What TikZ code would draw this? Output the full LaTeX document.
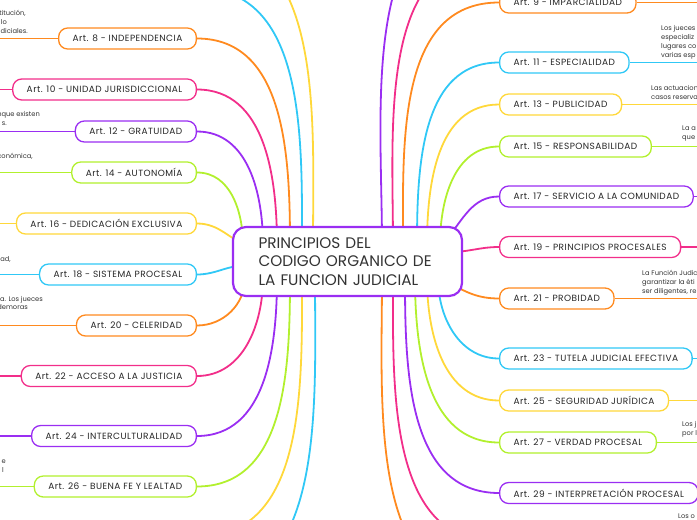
\documentclass[tikz,border=0pt]{standalone}
\usepackage{fontspec}
\setmainfont{Poppins}
\newfontfamily\artfont[LetterSpace=5]{Poppins}
\usetikzlibrary{backgrounds}
\definecolor{mmorange}{HTML}{FF8A1F}
\definecolor{mmpink}{HTML}{F22E8A}
\definecolor{mmpurple}{HTML}{9A2EF2}
\definecolor{mmlime}{HTML}{B2F02E}
\definecolor{mmyellow}{HTML}{FFD83A}
\definecolor{mmblue}{HTML}{30C8F6}
\tikzstyle{root}=[rectangle,draw=mmpurple,fill=white,line width=2.2pt,rounded corners=13pt,minimum width=229pt,minimum height=69pt,align=left,text width=178pt,text=black!80,font=\fontsize{15.3}{18.5}\selectfont]
\tikzstyle{article}=[rectangle,draw,fill=white,line width=1.3pt,rounded corners=9pt,minimum height=21pt,inner xsep=14pt,inner ysep=0pt,text=black!85,font=\artfont\fontsize{9}{10}\selectfont]
\tikzstyle{branch}=[line width=1.8pt]
\tikzstyle{note}=[inner sep=0pt,align=left,text=black!80,font=\fontsize{6.7}{9}\selectfont]

\begin{document}
\begin{tikzpicture}[x=1pt,y=-1pt]
	\useasboundingbox (0,0) rectangle (697,520);
	\clip (0,0) rectangle (697,520);

	\node[root] (center) at (347.5,261.5) {PRINCIPIOS DEL\\CODIGO ORGANICO DE\\LA FUNCION JUDICIAL};

	\node[article,draw=mmorange,anchor=east] (art8) at (197,38.5) {Art. 8 - INDEPENDENCIA};
	\node[article,draw=mmpink,anchor=east] (art10) at (197,89.5) {Art. 10 - UNIDAD JURISDICCIONAL};
	\node[article,draw=mmpurple,anchor=east] (art12) at (197,131.5) {Art. 12 - GRATUIDAD};
	\node[article,draw=mmlime,anchor=east] (art14) at (197,172.5) {Art. 14 - AUTONOMÍA};
	\node[article,draw=mmyellow,anchor=east] (art16) at (197,223.5) {Art. 16 - DEDICACIÓN EXCLUSIVA};
	\node[article,draw=mmblue,anchor=east] (art18) at (197,274.5) {Art. 18 - SISTEMA PROCESAL};
	\node[article,draw=mmorange,anchor=east] (art20) at (197,325.5) {Art. 20 - CELERIDAD};
	\node[article,draw=mmpink,anchor=east] (art22) at (197,376) {Art. 22 - ACCESO A LA JUSTICIA};
	\node[article,draw=mmpurple,anchor=east] (art24) at (197,436) {Art. 24 - INTERCULTURALIDAD};
	\node[article,draw=mmlime,anchor=east] (art26) at (197,486.5) {Art. 26 - BUENA FE Y LEALTAD};

	\node[article,draw=mmorange,anchor=west] (art9) at (499,2.5) {Art. 9 - IMPARCIALIDAD};
	\node[article,draw=mmblue,anchor=west] (art11) at (499,62.5) {Art. 11 - ESPECIALIDAD};
	\node[article,draw=mmyellow,anchor=west] (art13) at (499,104.5) {Art. 13 - PUBLICIDAD};
	\node[article,draw=mmlime,anchor=west] (art15) at (499,146.5) {Art. 15 - RESPONSABILIDAD};
	\node[article,draw=mmpurple,anchor=west] (art17) at (499,196.5) {Art. 17 - SERVICIO A LA COMUNIDAD};
	\node[article,draw=mmpink,anchor=west] (art19) at (499,247) {Art. 19 - PRINCIPIOS PROCESALES};
	\node[article,draw=mmorange,anchor=west] (art21) at (499,298.5) {Art. 21 - PROBIDAD};
	\node[article,draw=mmblue,anchor=west] (art23) at (499,358.5) {Art. 23 - TUTELA JUDICIAL EFECTIVA};
	\node[article,draw=mmyellow,anchor=west] (art25) at (499,400.5) {Art. 25 - SEGURIDAD JURÍDICA};
	\node[article,draw=mmlime,anchor=west] (art27) at (499,442.5) {Art. 27 - VERDAD PROCESAL};
	\node[article,draw=mmpurple,anchor=west] (art29) at (499,493) {Art. 29 - INTERPRETACIÓN PROCESAL};

	\coordinate (art4) at (197,-62);
	\coordinate (art6) at (197,-12);
	\coordinate (art28) at (197,537);
	\coordinate (art30) at (197,588);
	\coordinate (art5) at (499,-97);
	\coordinate (art7) at (499,-47);
	\coordinate (art31) at (499,543);
	\coordinate (art33) at (499,593);

	\coordinate (a4) at (313,245);
	\coordinate (a6) at (302,245);
	\coordinate (a8) at (290,245);
	\coordinate (a10) at (277,245);
	\coordinate (a12) at (263,245);
	\coordinate (a14) at (243,245);
	\coordinate (a16) at (250,247);
	\coordinate (a18) at (248,266);
	\coordinate (a20) at (245,278);
	\coordinate (a22) at (263,278);
	\coordinate (a24) at (277,278);
	\coordinate (a26) at (290,278);
	\coordinate (a28) at (302,278);
	\coordinate (a30) at (315,278);
	\coordinate (a5) at (382,245);
	\coordinate (a7) at (393,245);
	\coordinate (a9) at (403,245);
	\coordinate (a11) at (417,245);
	\coordinate (a13) at (427,245);
	\coordinate (a15) at (440,245);
	\coordinate (a17) at (446,240);
	\coordinate (a19) at (450,252);
	\coordinate (a21) at (448,282);
	\coordinate (a23) at (438,278);
	\coordinate (a25) at (427,278);
	\coordinate (a27) at (415,278);
	\coordinate (a29) at (405,278);
	\coordinate (a31) at (393,278);
	\coordinate (a33) at (382,278);

	\coordinate (note8) at (-3,38.5);
	\coordinate (note10) at (-3,89.5);
	\coordinate (note12) at (-3,131.5);
	\coordinate (note14) at (-3,172.5);
	\coordinate (note16) at (-3,223.5);
	\coordinate (note18) at (-3,274.5);
	\coordinate (note20) at (-3,325.5);
	\coordinate (note22) at (-3,376);
	\coordinate (note24) at (-3,436);
	\coordinate (note26) at (-3,486.5);
	\coordinate (note9) at (700,2.5);
	\coordinate (note11) at (700,62.5);
	\coordinate (note13) at (700,104.5);
	\coordinate (note15) at (700,146.5);
	\coordinate (note17) at (700,196.5);
	\coordinate (note19) at (700,247);
	\coordinate (note21) at (700,298.5);
	\coordinate (note23) at (700,358.5);
	\coordinate (note25) at (700,400.5);
	\coordinate (note27) at (700,442.5);
	\coordinate (note29) at (700,493);

	\node[note,anchor=base east] (text8a) at (26,15.7) {titución,};
	\node[note,anchor=base east] (text8b) at (7,24.3) {lo};
	\node[note,anchor=base east] (text8c) at (28,33) {diciales.};
	\node[note,anchor=base east] (text12a) at (40,116) {nque existen};
	\node[note,anchor=base east] (text12b) at (7,125) {s.};
	\node[note,anchor=base east] (text14) at (33,158) {conómica,};
	\node[note,anchor=base east] (text18) at (11,261) {ad,};
	\node[note,anchor=base east] (text20a) at (43,301) {a. Los jueces};
	\node[note,anchor=base east] (text20b) at (28,309.5) {demoras};
	\node[note,anchor=base east] (text26a) at (6,463) {e};
	\node[note,anchor=base east] (text26b) at (4,472) {l};

	\node[note,anchor=base west] (text11) at (661,57) {Los jueces\\especializ\\lugares co\\varias esp};
	\node[note,anchor=base west] (text13) at (651,99) {Las actuacion\\casos reserva};
	\node[note,anchor=base west] (text15) at (682,139) {La a\\que};
	\node[note,anchor=base west] (text21) at (642,293) {La Función Judic\\garantizar la éti\\ser diligentes, re};
	\node[note,anchor=base west] (text27) at (682,435) {Los j\\por l};
	\node[note,anchor=base west] (text31) at (678,518) {Los o};

	\begin{scope}[on background layer]
		\clip (0,0) rectangle (697,520);
		\draw[branch,mmyellow] (art4) to[out=0,in=90] (a4);
		\draw[branch,mmblue] (art6) to[out=0,in=90] (a6);
		\draw[branch,mmorange] (art8.east) to[out=0,in=90] (a8);
		\draw[branch,mmpink] (art10.east) to[out=0,in=90] (a10);
		\draw[branch,mmpurple] (art12.east) to[out=0,in=90] (a12);
		\draw[branch,mmlime] (art14.east) to[out=0,in=90] (a14);
		\draw[branch,mmyellow] (art16.east) to[out=0,in=160] (a16);
		\draw[branch,mmblue] (art18.east) to[out=0,in=175] (a18);
		\draw[branch,mmorange] (art20.east) to[out=0,in=-90] (a20);
		\draw[branch,mmpink] (art22.east) to[out=0,in=-90] (a22);
		\draw[branch,mmpurple] (art24.east) to[out=0,in=-90] (a24);
		\draw[branch,mmlime] (art26.east) to[out=0,in=-90] (a26);
		\draw[branch,mmyellow] (art28) to[out=0,in=-90] (a28);
		\draw[branch,mmblue] (art30) to[out=0,in=-90] (a30);

		\draw[branch,mmpurple] (a5) to[out=90,in=180] (art5);
		\draw[branch,mmpink] (a7) to[out=90,in=180] (art7);
		\draw[branch,mmorange] (a9) to[out=90,in=180] (art9.west);
		\draw[branch,mmblue] (a11) to[out=90,in=180] (art11.west);
		\draw[branch,mmyellow] (a13) to[out=90,in=180] (art13.west);
		\draw[branch,mmlime] (a15) to[out=90,in=180] (art15.west);
		\draw[branch,mmpurple] (a17) to[out=50,in=180] (art17.west);
		\draw[branch,mmpink] (a19) to[out=0,in=180] (art19.west);
		\draw[branch,mmorange] (a21) to[out=-30,in=180] (art21.west);
		\draw[branch,mmblue] (a23) to[out=-90,in=180] (art23.west);
		\draw[branch,mmyellow] (a25) to[out=-90,in=180] (art25.west);
		\draw[branch,mmlime] (a27) to[out=-90,in=180] (art27.west);
		\draw[branch,mmpurple] (a29) to[out=-90,in=180] (art29.west);
		\draw[branch,mmpink] (a31) to[out=-90,in=180] (art31);
		\draw[branch,mmorange] (a33) to[out=-90,in=180] (art33);

		\draw[branch,mmorange] (art8.west) -- (note8);
		\draw[branch,mmpink] (art10.west) -- (note10);
		\draw[branch,mmpurple] (art12.west) -- (note12);
		\draw[branch,mmlime] (art14.west) -- (note14);
		\draw[branch,mmyellow] (art16.west) -- (note16);
		\draw[branch,mmblue] (art18.west) -- (note18);
		\draw[branch,mmorange] (art20.west) -- (note20);
		\draw[branch,mmpink] (art22.west) -- (note22);
		\draw[branch,mmpurple] (art24.west) -- (note24);
		\draw[branch,mmlime] (art26.west) -- (note26);
		\draw[branch,mmorange] (art9.east) -- (note9);
		\draw[branch,mmblue] (art11.east) -- (note11);
		\draw[branch,mmyellow] (art13.east) -- (note13);
		\draw[branch,mmlime] (art15.east) -- (note15);
		\draw[branch,mmpurple] (art17.east) -- (note17);
		\draw[branch,mmpink] (art19.east) -- (note19);
		\draw[branch,mmorange] (art21.east) -- (note21);
		\draw[branch,mmblue] (art23.east) -- (note23);
		\draw[branch,mmyellow] (art25.east) -- (note25);
		\draw[branch,mmlime] (art27.east) -- (note27);
		\draw[branch,mmpurple] (art29.east) -- (note29);
	\end{scope}
\end{tikzpicture}
\end{document}
